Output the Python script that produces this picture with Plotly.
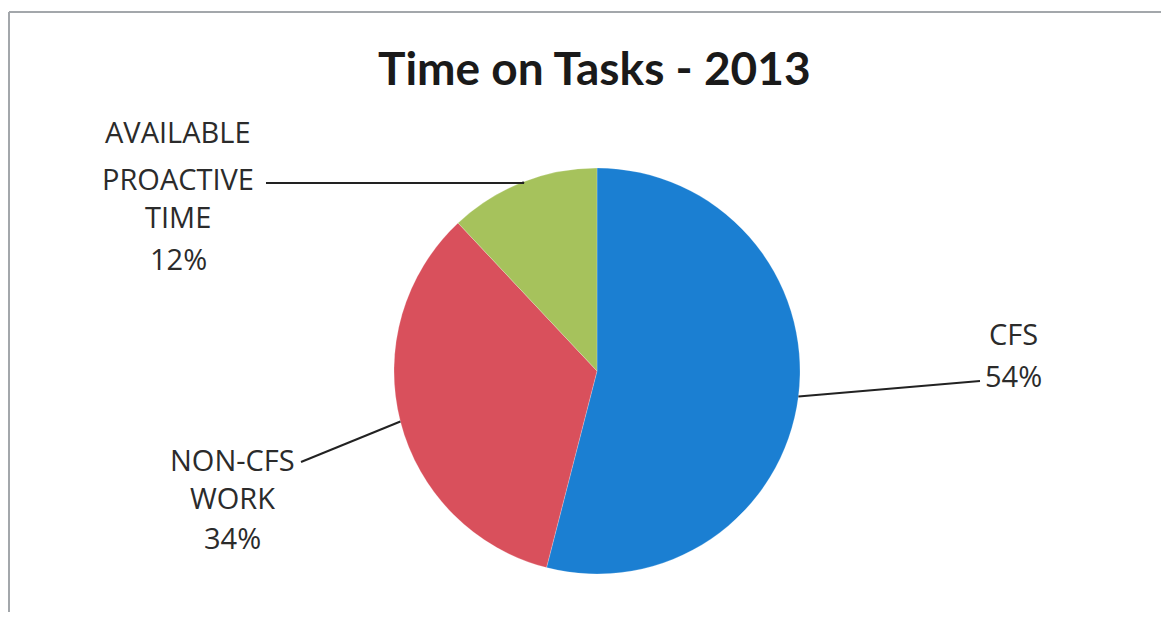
import math
import plotly.graph_objects as go

# the page body has an 8px margin, so the figure is drawn 8px in from the window edge
OFF = 8
W, H = 1169 - 2 * OFF, 620 - 2 * OFF

# ---- data ----
labels = ["CFS", "NON-CFS WORK", "AVAILABLE PROACTIVE TIME"]
label_lines = [["CFS", "54%"], ["NON-CFS", "WORK", "34%"], ["AVAILABLE", "PROACTIVE", "TIME", "12%"]]
values = [54, 34, 12]
colors = ["#1b7fd2", "#d9505c", "#a6c25c"]
title = "Time on Tasks - 2013"

# ---- pie geometry (window pixels) ----
cx, cy, R = 597, 371, 203


def px(x):
    return (x - OFF) / W


def py(y):
    return 1 - (y - OFF) / H


fig = go.Figure(go.Pie(
    labels=labels, values=values, sort=False, direction="clockwise", rotation=0,
    marker=dict(colors=colors, line=dict(color="rgba(255,255,255,0.35)", width=0.6)),
    textinfo="none", hoverinfo="label+percent", showlegend=False,
    domain=dict(x=[px(cx - R), px(cx + R)], y=[py(cy + R), py(cy - R)]),
))

# label text anchor (pixel) and the label-side end of each leader line
label_pos = [(1013, [333, 375]), (232, [459, 497, 537]), (178, [132, 178, 217, 258])]
line_ends = [(980, 381), (301, 462), (266, 183)]
elbows = [None, None, (524, 183)]

annotations = []
shapes = []
total = sum(values)
cum = 0
for i, v in enumerate(values):
    mid = (cum + v / 2) / total * 2 * math.pi
    cum += v
    ex = cx + R * math.sin(mid)
    ey = cy - R * math.cos(mid)
    lx, ly = line_ends[i]
    pts = [(lx, ly)]
    if elbows[i]:
        pts.append(elbows[i])
    pts.append((ex, ey))
    path = "M " + " L ".join(f"{px(a):.5f},{py(b):.5f}" for a, b in pts)
    shapes.append(dict(type="path", path=path, xref="paper", yref="paper",
                       line=dict(color="#222222", width=2)))
    tx, ys = label_pos[i]
    for t, yy in zip(label_lines[i], ys):
        annotations.append(dict(text=t, x=px(tx), y=py(yy), xref="paper", yref="paper",
                                xanchor="center", yanchor="middle", showarrow=False,
                                font=dict(family="Open Sans, sans-serif", size=29, color="#2b2b2b")))

annotations.append(dict(text="<b>" + title + "</b>", x=px(594), y=py(68), xref="paper", yref="paper",
                        xanchor="center", yanchor="middle", showarrow=False,
                        font=dict(family="Lato, sans-serif", size=46, color="#1a1a1a")))

# frame (top and left edges visible)
shapes.append(dict(type="line", xref="paper", yref="paper", x0=px(9), x1=1, y0=py(12), y1=py(12),
                   line=dict(color="#a3a7ab", width=2)))
shapes.append(dict(type="line", xref="paper", yref="paper", x0=px(9), x1=px(9), y0=py(12), y1=0,
                   line=dict(color="#a3a7ab", width=2)))

fig.update_layout(width=W, height=H, margin=dict(l=0, r=0, t=0, b=0),
                  paper_bgcolor="white", plot_bgcolor="white",
                  annotations=annotations, shapes=shapes)

fig.write_html("out.html")
